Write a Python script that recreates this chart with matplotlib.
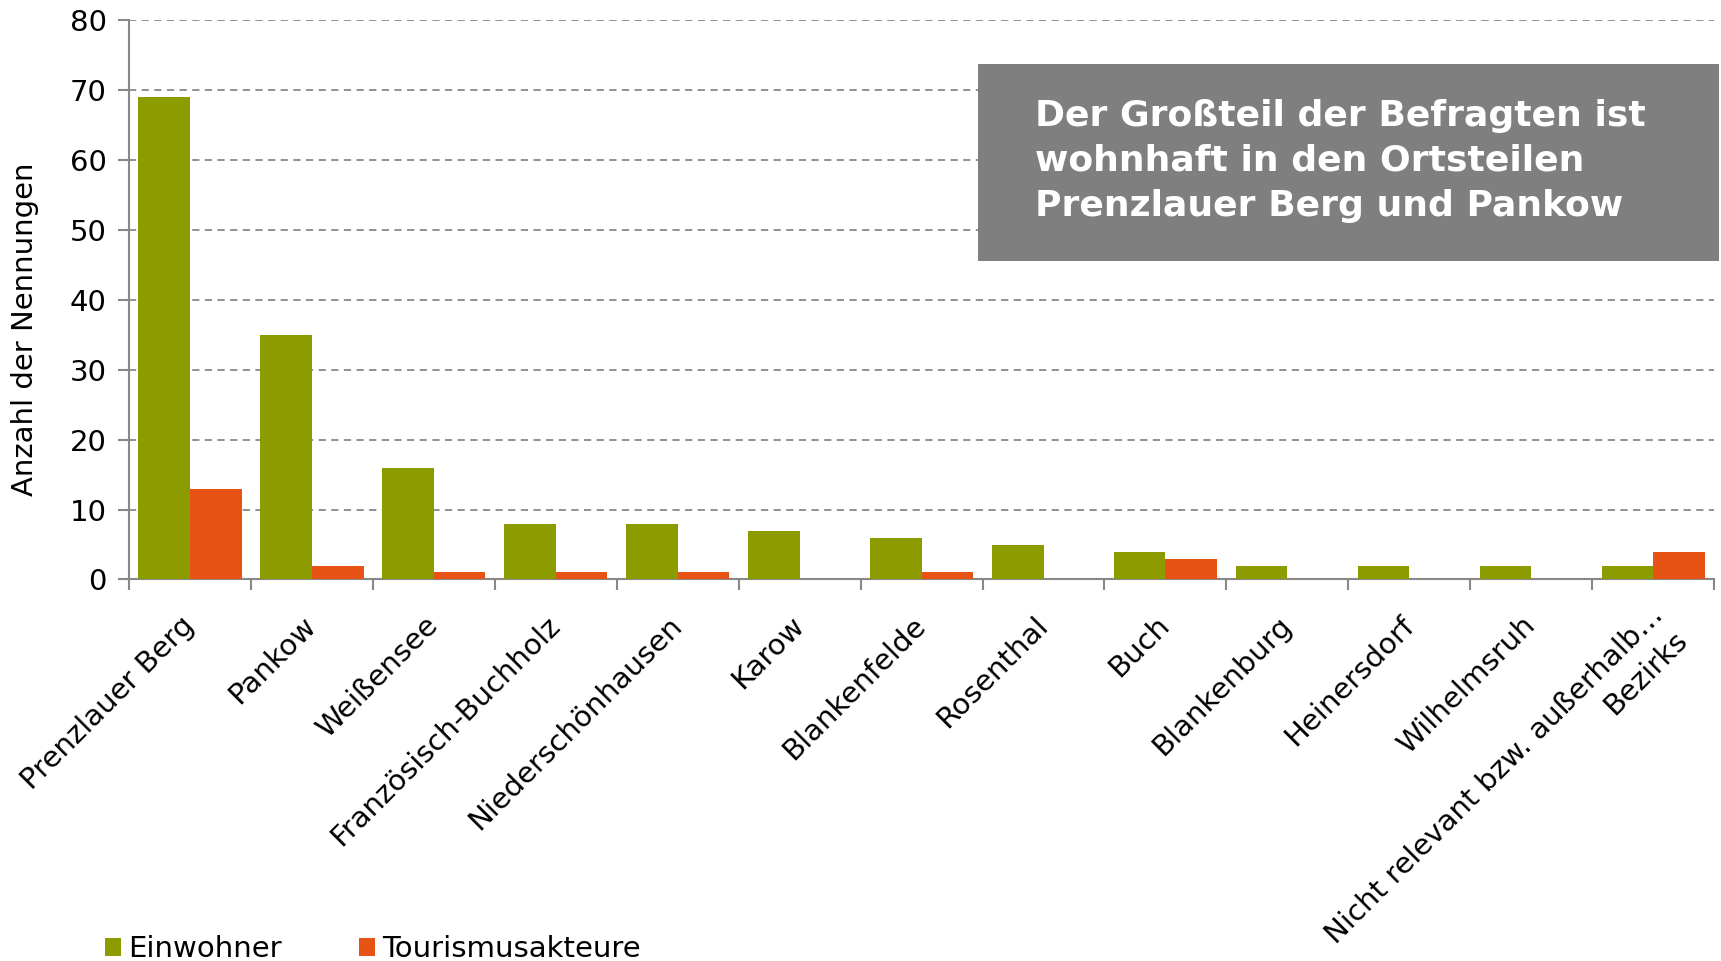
import numpy as np
import matplotlib.pyplot as plt
import matplotlib.transforms as mtransforms
from matplotlib.ticker import FixedLocator

# Data
categories = ["Prenzlauer Berg", "Pankow", "Weißensee", "Französisch-Buchholz",
              "Niederschönhausen", "Karow", "Blankenfelde", "Rosenthal", "Buch",
              "Blankenburg", "Heinersdorf", "Wilhelmsruh",
              "Nicht relevant bzw. außerhalb…\nBezirks"]
einwohner = [69, 35, 16, 8, 8, 7, 6, 5, 4, 2, 2, 2, 2]
tourismus = [13, 2, 1, 1, 1, 0, 1, 0, 3, 0, 0, 0, 4]

green = "#8C9B00"
orange = "#E65314"
grey = "#888888"
fs = 21

plt.rcParams['font.family'] = ['DejaVu Sans']

fig = plt.figure(figsize=(17.21, 9.61), dpi=100)
ax = fig.add_axes([0.075, 0.397, 0.921, 0.582])

x = np.arange(len(categories))
w = 0.423
b1 = ax.bar(x - w / 2, einwohner, w, color=green, label="Einwohner", zorder=3)
b2 = ax.bar(x + w / 2, tourismus, w, color=orange, label="Tourismusakteure", zorder=3)

ax.set_xlim(-0.5, len(categories) - 0.5)
ax.set_ylim(0, 80)
ax.set_yticks(range(0, 81, 10))
ax.yaxis.grid(True, linestyle=(0, (4, 3)), color=grey, linewidth=1.3, zorder=0)

for s in ["top", "right"]:
    ax.spines[s].set_visible(False)
for s in ["left", "bottom"]:
    ax.spines[s].set_color(grey)
    ax.spines[s].set_linewidth(1.5)

ax.tick_params(axis='y', length=8, width=1.5, color=grey, pad=8, labelsize=fs)

# category labels at centres, tick marks at boundaries
ax.set_xticks(x)
labels = ax.set_xticklabels(categories, fontsize=fs, rotation=45, ha='right',
                            va='center', rotation_mode='anchor', multialignment='right')
ax.tick_params(axis='x', which='major', length=0, pad=30)
ax.xaxis.set_minor_locator(FixedLocator(np.arange(-0.5, len(categories), 1.0)))
ax.tick_params(axis='x', which='minor', length=8, width=1.5, color=grey)

# last two-line label sits a bit further right in the original
last = labels[-1]
last.set_linespacing(1.3)
last.set_transform(last.get_transform() +
                   mtransforms.ScaledTranslation(0.18, -0.02, fig.dpi_scale_trans))

ax.set_ylabel("Anzahl der Nennungen", fontsize=fs)
ax.yaxis.set_label_coords(-0.057, 0.4476)

# highlight box
box = fig.add_axes([0.568, 0.728, 0.431, 0.205])
box.set_xlim(0, 1)
box.set_ylim(0, 1)
box.axis('off')
box.add_patch(plt.Rectangle((0, 0), 1, 1, facecolor="#7F7F7F", edgecolor='none'))
box.text(0.078, 0.51, "Der Großteil der Befragten ist\nwohnhaft in den Ortsteilen\nPrenzlauer Berg und Pankow",
         color='white', fontsize=26, fontweight='bold', va='center', ha='left',
         linespacing=1.4)

fig.legend(handles=[b1, b2], loc='center left', bbox_to_anchor=(0.061, 0.012),
           ncol=2, frameon=False, fontsize=fs, handlelength=0.55, handleheight=0.55,
           handletextpad=0.25, columnspacing=2.65, borderpad=0, borderaxespad=0)

plt.savefig("out.png", dpi=100)
